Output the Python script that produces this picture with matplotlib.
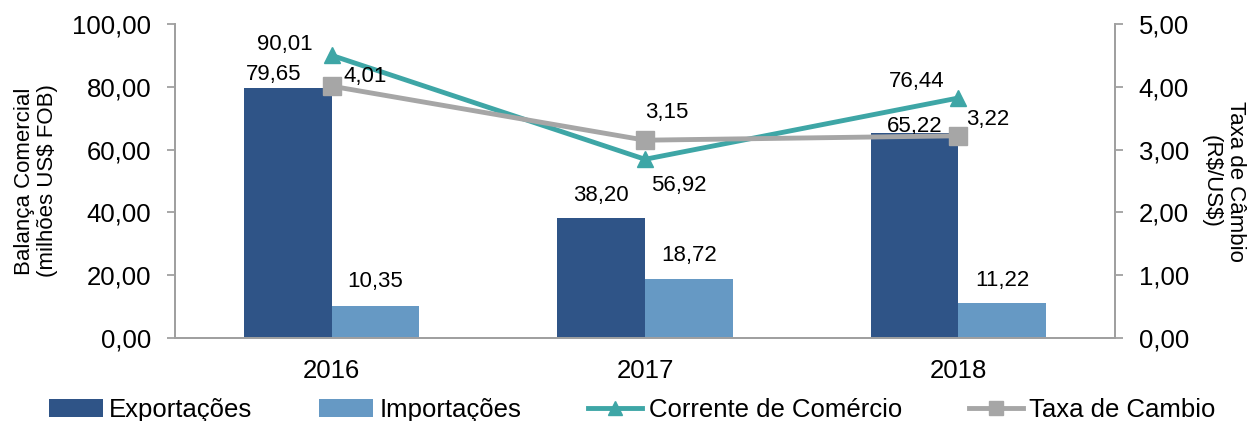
import numpy as np
import matplotlib.pyplot as plt
from matplotlib.ticker import FuncFormatter

plt.rcParams['font.family'] = ['Liberation Sans', 'DejaVu Sans']

anos = ['2016', '2017', '2018']
exportacoes = [79.65, 38.20, 65.22]
importacoes = [10.35, 18.72, 11.22]
corrente = [90.01, 56.92, 76.44]
cambio = [4.01, 3.15, 3.22]

c_exp = '#2F5487'
c_imp = '#6699C4'
c_cor = '#3EA6A6'
c_cam = '#A6A6A6'
c_axis = '#A0A0A0'


def br(v, pos=None):
    return ('%.2f' % v).replace('.', ',')


fig = plt.figure(figsize=(12.52, 4.21), dpi=100)
ax = fig.add_axes([0.1398, 0.197, 0.7508, 0.746])
ax2 = ax.twinx()

x = np.arange(len(anos))
w = 0.28
b1 = ax.bar(x - w / 2, exportacoes, w, color=c_exp, label='Exportações', zorder=2)
b2 = ax.bar(x + w / 2, importacoes, w, color=c_imp, label='Importações', zorder=2)
l1, = ax.plot(x, corrente, color=c_cor, lw=3.5, marker='^', ms=12, label='Corrente de Comércio', zorder=3)
l2, = ax2.plot(x, cambio, color=c_cam, lw=3.5, marker='s', ms=13, label='Taxa de Cambio', zorder=3)

ax.set_xlim(-0.5, 2.5)
ax.set_ylim(0, 100)
ax2.set_ylim(0, 5)
ax.set_yticks(np.arange(0, 101, 20))
ax2.set_yticks(np.arange(0, 5.01, 1))
ax.yaxis.set_major_formatter(FuncFormatter(br))
ax2.yaxis.set_major_formatter(FuncFormatter(br))
ax.set_xticks(x)
ax.set_xticklabels(anos)

for a in (ax, ax2):
    a.spines['top'].set_visible(False)
    for s in ('left', 'right', 'bottom'):
        a.spines[s].set_color(c_axis)
        a.spines[s].set_linewidth(1.3)
    a.tick_params(axis='y', colors=c_axis, labelcolor='black', labelsize=18.5,
                  length=6, width=1.3, pad=11)
ax.tick_params(axis='x', length=0, labelsize=18.5, pad=15)
ax.set_zorder(ax2.get_zorder() - 1)
ax.patch.set_visible(False)
ax2.set_zorder(1)

fig.text(0.0288, 0.57, 'Balança Comercial\n(milhões US\\$ FOB)', fontsize=16, rotation=90,
         ha='center', va='center', linespacing=1.15, multialignment='center')
fig.text(0.977, 0.57, 'Taxa de Câmbio\n(R\\$/US\\$)', fontsize=16, rotation=-90,
         ha='center', va='center', linespacing=1.2, multialignment='center')

lab = dict(fontsize=16, ha='center', va='center', textcoords='offset points')
exp_off = [(-10, 10), (0, 16), (0, 5)]
imp_off = [(0, 17), (0, 17), (0, 16)]
for i in range(3):
    ax.annotate(br(exportacoes[i]), (x[i] - w / 2, exportacoes[i]), xytext=exp_off[i], **lab)
    ax.annotate(br(importacoes[i]), (x[i] + w / 2, importacoes[i]), xytext=imp_off[i], **lab)
cor_off = [(-34, 8), (24, -19), (-30, 12)]
cam_off = [(24, 7), (16, 20), (21, 12)]
for i in range(3):
    ax.annotate(br(corrente[i]), (x[i], corrente[i]), xytext=cor_off[i], **lab)
    ax2.annotate(br(cambio[i]), (x[i], cambio[i]), xytext=cam_off[i], **lab)

fig.legend([b1, b2, l1, l2], [b1.get_label(), b2.get_label(), l1.get_label(), l2.get_label()],
           loc='center', bbox_to_anchor=(0.505, 0.027), ncol=4, frameon=False,
           fontsize=18.5, handlelength=2.1, handletextpad=0.25, columnspacing=2.6,
           borderpad=0, markerscale=0.8)

fig.savefig('out.png', dpi=100)
